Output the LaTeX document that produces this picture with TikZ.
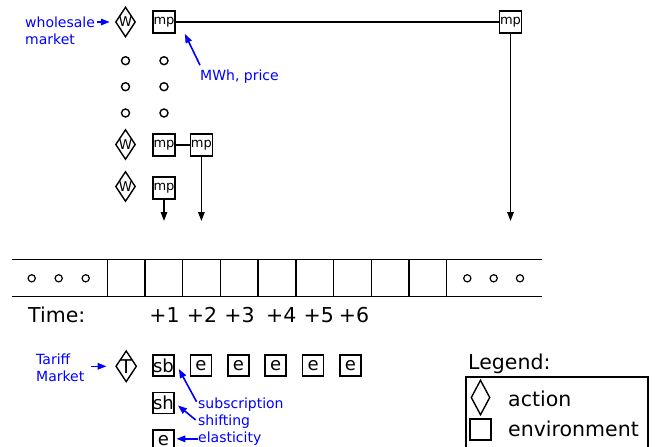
\documentclass[tikz,border=0pt]{standalone}
\usepackage{fontspec}
\setmainfont{DejaVu Sans}
\usetikzlibrary{shapes.geometric,arrows.meta,positioning}

\begin{document}
\begin{tikzpicture}[
		x=1pt, y=-1pt,
		node distance=37.4pt,
		>={Triangle[length=9pt,width=6.5pt]},
		actbox/.style={draw, diamond, line width=1.4pt, aspect=0.67, inner sep=0pt, minimum width=20pt, minimum height=30pt, font=\fontsize{13.5}{13.5}\selectfont},
		envbox/.style={draw, rectangle, line width=1.7pt, inner sep=0pt, minimum size=21pt, font=\fontsize{18}{18}\selectfont},
		mpbox/.style={envbox, minimum size=22pt, font=\fontsize{13}{13}\selectfont},
		bluelbl/.style={text=blue, inner sep=0pt, align=left, font=\fontsize{14}{17}\selectfont},
		bigtxt/.style={inner sep=0pt, font=\fontsize{20.5}{20.5}\selectfont},
		conn/.style={line width=1.4pt},
		bluearrow/.style={->, blue, line width=1.6pt}
		]
		\useasboundingbox (0,0) rectangle (656,447);
		\coordinate (stop) at (0,221);

		% Wholesale market
		\node[bluelbl, anchor=north west] (wlbl) at (25,16.5) {wholesale\\market};
		\node[actbox] (w1) at (125.5,22) {W};
		\node[mpbox] (mp1) at (164,22) {mp};
		\node[mpbox] (mp2) at (510.5,22) {mp};
		\foreach \y in {60.7,86.7,113} {
			\draw[conn] (125.5,\y) circle (4pt);
			\draw[conn] (164,\y) circle (4pt);
		}
		\node[actbox] (w2) at (125.5,144.5) {W};
		\node[mpbox] (mp3) at (164,145) {mp};
		\node[mpbox, right of=mp3] (mp4) {mp};
		\node[actbox] (w3) at (125.5,186.5) {W};
		\node[mpbox] (mp5) at (164,188) {mp};
		\node[bluelbl, anchor=base west] (mwh) at (200,80) {MWh, price};

		% Timeline
		\draw[conn] (11.7,259.3) -- (541.7,259.3);
		\draw[conn] (11.7,296.7) -- (541.7,296.7);
		\foreach \i in {0,...,9}
			\draw[conn] (107.3+37.7*\i,259.3) -- (107.3+37.7*\i,296.7);
		\foreach \x in {31.7,58.7,85.7,467.3,493.7,520}
			\draw[line width=1.2pt] (\x,278.3) circle (3.6pt);
		\node[bigtxt, anchor=base west] (time) at (28,322.7) {Time:};
		\foreach \x/\t/\n in {164.5/+1/t1, 202/+2/t2, 239.5/+3/t3, 281.3/+4/t4, 318.7/+5/t5, 354/+6/t6}
			\node[bigtxt, anchor=base] (\n) at (\x,322.7) {\t};

		% Tariff market
		\node[bluelbl, anchor=north west] (tlbl) at (36,353.5) {Tariff\\Market};
		\node[actbox, minimum width=19pt, minimum height=31pt, font=\fontsize{19}{19}\selectfont] (tm) at (126.2,366.3) {T};
		\node[envbox] (sb) at (163.5,365.5) {sb};
		\node[envbox, right of=sb] (e1) {e};
		\node[envbox, right of=e1] (e2) {e};
		\node[envbox, right of=e2] (e3) {e};
		\node[envbox, right of=e3] (e4) {e};
		\node[envbox, right of=e4] (e5) {e};
		\node[envbox, below of=sb] (sh) {sh};
		\node[envbox, below of=sh] (e6) {e};
		\node[bluelbl, anchor=base west] (subs) at (198,408.3) {subscription};
		\node[bluelbl, anchor=base west] (shift) at (198,425.7) {shifting};
		\node[bluelbl, anchor=base west] (elas) at (198,442.7) {elasticity};

		% Legend
		\node[bigtxt, anchor=base west] (leg) at (468,369.3) {Legend:};
		\draw[conn] (466,470) -- (466,377) -- (648,377) -- (648,470);
		\node[draw, diamond, line width=1.4pt, inner sep=0pt, minimum width=19pt, minimum height=35pt] (ldia) at (480.5,397.5) {};
		\node[bigtxt, anchor=base west] (lact) at (508,406.7) {action};
		\node[draw, line width=1.4pt, inner sep=0pt, minimum size=21pt] (lbox) at (480.5,429.5) {};
		\node[bigtxt, anchor=base west] (lenv) at (508,436.7) {environment};

		% Arrows
		\draw[conn] (mp1) -- (mp2);
		\draw[conn] (mp3) -- (mp4);
		\draw[conn, ->] (mp2) -- (mp2 |- stop);
		\draw[conn, ->] (mp4) -- (mp4 |- stop);
		\draw[conn, ->] (mp5) -- (mp5 |- stop);
		\draw[bluearrow, shorten <=2pt, shorten >=5pt] (wlbl.east |- w1) -- (w1.west);
		\draw[bluearrow] ([yshift=4pt]mwh.north west) -- ([xshift=9pt]mp1.south east);
		\draw[bluearrow, shorten <=6pt, shorten >=8.5pt] (tlbl.east |- tm) -- (tm.west);
		\draw[bluearrow, shorten <=3pt] (subs.west) -- ([xshift=4pt,yshift=-3.5pt]sb.east);
		\draw[bluearrow, shorten <=3pt, shorten >=4pt] (shift.west) -- (sh.east);
		\draw[bluearrow, shorten >=1.5pt] (elas.west) -- (elas.west -| e6.east);
	\end{tikzpicture}
\end{document}
